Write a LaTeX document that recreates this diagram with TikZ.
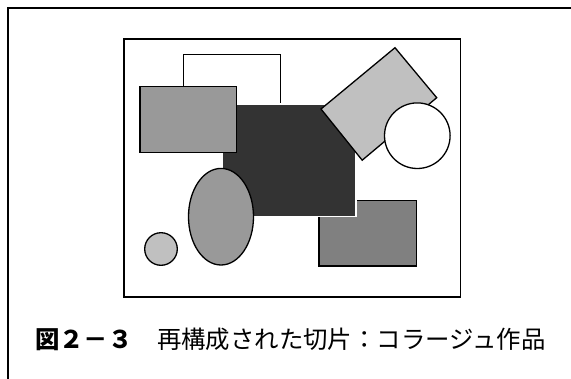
\documentclass[tikz,border=0pt]{standalone}
\usepackage{fontspec}
\newfontfamily\cjk{Noto Sans CJK JP}
\usetikzlibrary{shapes.geometric}
\definecolor{darkfill}{HTML}{333333}
\definecolor{midfill}{HTML}{999999}
\definecolor{gfill}{HTML}{808080}
\definecolor{lightfill}{HTML}{C0C0C0}
\tikzset{
  shapeline/.style={draw=black, line width=1.3pt},
  framebox/.style={draw=black, line width=1.5pt},
  thinline/.style={draw=black, line width=0.8pt},
}
\begin{document}
\begin{tikzpicture}[x=1pt,y=-1pt]
\useasboundingbox (0,0) rectangle (571,378);
\fill[white] (0,0) rectangle (571,378);
% outer frame
\draw[framebox] (8,8) rectangle (590,400);
% inner frame
\draw[framebox] (124,39) rectangle (460.7,297);
% lower-right rectangle
\draw[shapeline, fill=gfill] (319,200.7) rectangle (416.7,266);
% dark rectangle
\draw[draw=white, line width=1.3pt, fill=darkfill] (222.3,104.3) rectangle (356,216.7);
% upper-left rectangle
\draw[shapeline, fill=midfill] (140,86.7) rectangle (236.7,152.3);
% bracket line
\draw[thinline] (183.3,86.7) -- (183.3,54.3) -- (280.7,54.3) -- (280.7,102.7);
% rotated rectangle
\draw[shapeline, fill=lightfill, line join=miter] (321,109) -- (395,47.7) -- (436.7,97.7) -- (362.2,160.2) -- cycle;
% white circle
\draw[shapeline, fill=white] (417.3,135.7) circle[radius=32.8];
% ellipse
\draw[shapeline, fill=midfill] (221,216.7) ellipse[x radius=32.5, y radius=48.3];
% small circle
\draw[shapeline, fill=lightfill] (161,249) circle[radius=16.3];
% caption
\node[anchor=base west, inner sep=0pt, font={\cjk\fontsize{24.4}{26}\selectfont}] (cap) at (35,348)
  {{\bfseries 図２－３}　再構成された切片：コラージュ作品};
\end{tikzpicture}
\end{document}
